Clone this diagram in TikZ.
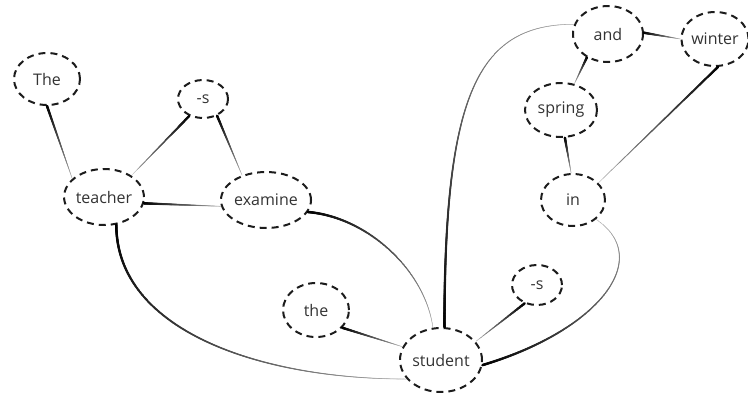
\documentclass[tikz,border=0pt]{standalone}
\usepackage{fontspec}
\setmainfont{Open Sans}
\usepackage{tikz}
\usetikzlibrary{shapes.geometric,decorations.markings}
\definecolor{figink}{HTML}{1C1C1C}
\definecolor{figtext}{HTML}{333333}

\begin{document}
\begin{tikzpicture}[x=1pt, y=-1pt,
  word/.style={ellipse, draw=figink, line width=2pt,
    dash pattern=on 7pt off 5pt, inner sep=0pt,
    text=figtext, font=\fontsize{16}{18}\selectfont},
  taper/.style={
    decoration={markings,
      mark=between positions 0 and 1 step 0.35pt with {
        \pgfmathsetmacro\tf{\pgfkeysvalueof{/pgf/decoration/mark info/distance from start}/\pgfdecoratedpathlength}
        \pgfmathsetmacro\tr{1.3-1.05*\tf}
        \pgfmathsetmacro\tc{100-65*\tf}
        \fill[black!\tc] (0,0) circle (\tr pt);
      }},
    decorate}]
\useasboundingbox (0,0) rectangle (748,392);

% words of the sentence, placed at their pixel positions
\node[word, minimum width=66pt, minimum height=52pt] (The) at (47,79) {The};
\node[word, minimum width=50pt, minimum height=38pt] (sTop) at (203,99) {-s};
\node[word, minimum width=70pt, minimum height=56pt] (teacher) at (104,197) {teacher};
\node[word, minimum width=74pt, minimum height=56pt] (examine) at (266,200) {examine};
\node[word, minimum width=70pt, minimum height=56pt] (and) at (608,34) {and};
\node[word, minimum width=66pt, minimum height=54pt] (winter) at (715,39) {winter};
\node[word, minimum width=72pt, minimum height=54pt] (spring) at (561,110) {spring};
\node[word, minimum width=64pt, minimum height=52pt] (in) at (573,200) {in};
\node[word, minimum width=66pt, minimum height=54pt] (the) at (316,310) {the};
\node[word, minimum width=50pt, minimum height=40pt] (sRight) at (537,285) {-s};
\node[word, minimum width=82pt, minimum height=64pt] (student) at (441,360) {student};

% links: thick end at the first node, fading towards the second
\path[taper] (The.-90) -- (teacher.150);
\path[taper] (sTop.-129) -- (teacher.38);
\path[taper] (sTop.-50) -- (examine.134);
\path[taper] (teacher.-9) -- (examine.188);
\path[taper] (examine.-16) .. controls +(59,5) and +(-8,-58) .. (student.104);
\path[taper] (teacher.-66) .. controls +(0,104) and +(-151,0) .. (student.209);
\path[taper] (the.-34) -- (student.161);
\path[taper] (student.84) .. controls +(0,-232) and +(-97,0) .. (and.164);
\path[taper] (sRight.-124) -- (student.28);
\path[taper] (student.-7) .. controls +(117,-35) and +(58,39) .. (in.-40);
\path[taper] (and.2) -- (winter.180);
\path[taper] (and.-132) -- (spring.63);
\path[taper] (spring.-82) -- (in.94);
\path[taper] (winter.-84) -- (in.34);
\end{tikzpicture}
\end{document}
